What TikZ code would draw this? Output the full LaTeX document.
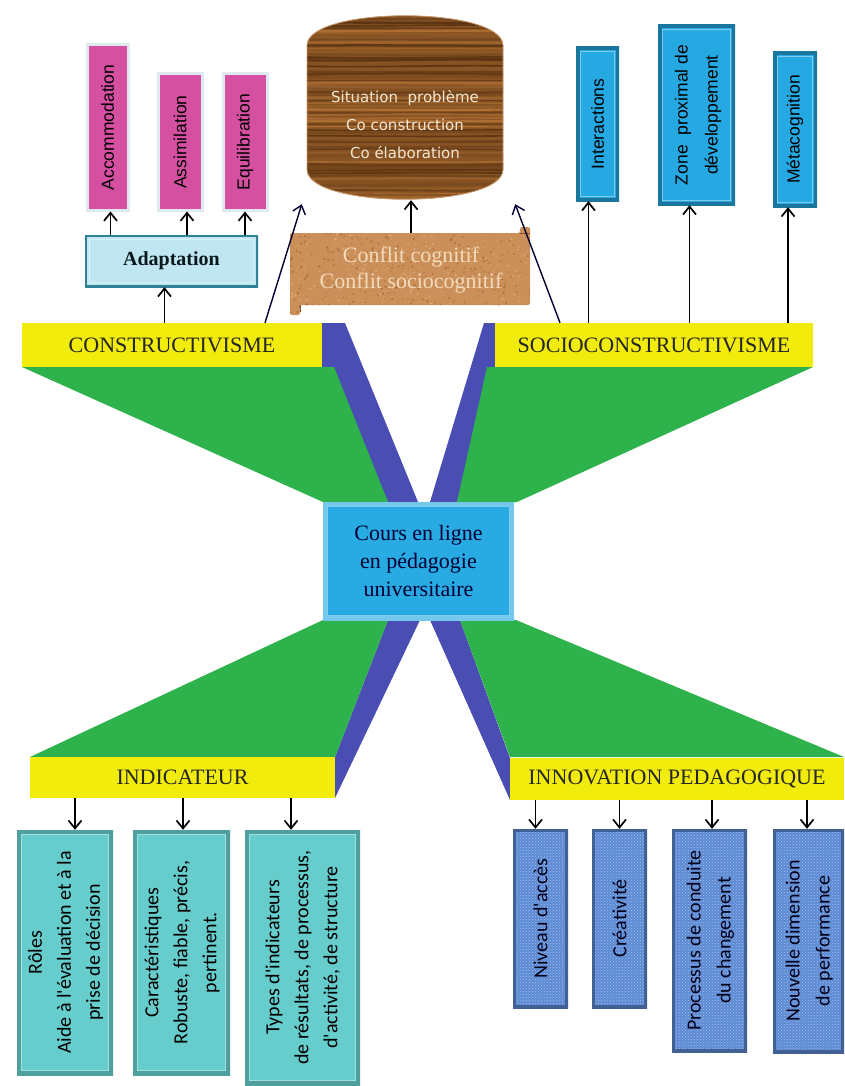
\documentclass[tikz,border=0pt]{standalone}
\usepackage{fontspec}
\setmainfont{Liberation Serif}
\newfontfamily\arialf{Liberation Sans}
\newfontfamily\calf{Carlito}
\newfontfamily\dejaf{DejaVu Sans}
\usetikzlibrary{arrows.meta,patterns}
\newcommand\rotlines[1]{\rotatebox{90}{\begin{tabular}{@{}c@{}}#1\end{tabular}}}
\definecolor{yel}{RGB}{242,236,12}
\definecolor{grn}{RGB}{46,178,76}
\definecolor{stripe}{RGB}{74,78,178}
\definecolor{cenb}{RGB}{40,170,226}
\definecolor{pinkc}{RGB}{214,80,162}
\definecolor{glow}{RGB}{222,234,240}
\definecolor{topb}{RGB}{38,168,226}
\definecolor{tealc}{RGB}{102,204,204}
\definecolor{botb}{RGB}{92,138,212}
\definecolor{adaptc}{RGB}{192,230,242}
\definecolor{adaptd}{RGB}{48,128,150}
\definecolor{woodD}{RGB}{92,52,18}
\definecolor{woodL}{RGB}{178,114,52}
\definecolor{corkD}{RGB}{170,102,50}
\definecolor{corkL}{RGB}{230,178,122}
\definecolor{woodtxt}{RGB}{245,232,210}
\definecolor{corktxt}{RGB}{242,218,188}
\begin{document}
\begin{tikzpicture}[x=1pt,y=-1pt,
  arr/.style={-{Straight Barb[length=8pt,width=13pt]}, line width=1.7pt, black},
  bar/.style={fill=yel, inner sep=0pt, font=\fontsize{22}{26}\selectfont, text=black!85},
  bevel/.style n args={3}{fill=#1, inner sep=0pt, path picture={
    \draw[#2, line width=#3] (path picture bounding box.south west) rectangle (path picture bounding box.north east);
    \draw[#1!60!white, line width=1pt] ([shift={(4.5pt,4.5pt)}]path picture bounding box.south west) rectangle ([shift={(-4.5pt,-4.5pt)}]path picture bounding box.north east);
  }},
  texbevel/.style={fill=botb, inner sep=0pt, path picture={
    \fill[pattern=crosshatch dots, pattern color=botb!55!white] (path picture bounding box.south west) rectangle (path picture bounding box.north east);
    \draw[botb!70!black, line width=6pt] (path picture bounding box.south west) rectangle (path picture bounding box.north east);
  }},
  pinkbox/.style={fill=pinkc, draw=glow, line width=3pt, inner sep=0pt, font=\arialf\fontsize{17.5}{22}\selectfont},
  topbox/.style={bevel={topb}{topb!70!black}{7pt}, font=\arialf\fontsize{17.5}{30}\selectfont},
  tealbox/.style={bevel={tealc}{tealc!78!black}{8pt}, font=\calf\fontsize{20}{29}\selectfont},
  botbox/.style={texbevel, font=\calf\fontsize{20}{30}\selectfont, text=black!90!blue}
]
\useasboundingbox (0,0) rectangle (844,1086);
\fill[white] (0,0) rectangle (844,1086);

% hourglass
\fill[stripe] (322,323) -- (345,323) -- (418,502) -- (388,502) -- (322,367) -- cycle;
\fill[grn] (22,367) -- (334,367) -- (388,502) -- (323,502) -- cycle;
\fill[stripe] (484,323) -- (497,323) -- (497,367) -- (457,502) -- (430,502) -- cycle;
\fill[grn] (487,367) -- (813,367) -- (517,502) -- (457,502) -- cycle;
\fill[stripe] (388,620) -- (420,620) -- (335,798) -- (335,757) -- cycle;
\fill[grn] (323,620) -- (388,620) -- (335,757) -- (30,757) -- cycle;
\fill[stripe] (430,620) -- (460,620) -- (510,758) -- (510,800) -- cycle;
\fill[grn] (460,620) -- (516,620) -- (844,757) -- (510,757) -- cycle;

% centre
\node[bevel={cenb}{cenb!65!white}{8pt}, minimum width=191pt, minimum height=118pt,
  font=\fontsize{22}{28}\selectfont, text=black!80!blue, align=center] (cen) at (418.5,561)
  {Cours en ligne\\en pédagogie\\universitaire};

% bars
\node[bar, minimum width=300pt, minimum height=44pt] (cons) at (172,345) {CONSTRUCTIVISME};
\node[bar, minimum width=318pt, minimum height=44pt] (soc) at (654,345) {SOCIOCONSTRUCTIVISME};
\node[bar, minimum width=305pt, minimum height=41pt] (ind) at (182.5,777.5) {INDICATEUR};
\node[bar, minimum width=334pt, minimum height=42pt] (inn) at (677,779) {INNOVATION PEDAGOGIQUE};

% wood cylinder
\begin{scope}
\clip (307,45) .. controls (309,6) and (501,6) .. (503,45) -- (503,170) .. controls (501,209) and (309,209) .. (307,170) -- cycle;
\fill[woodD!50!woodL] (300,0) rectangle (510,210);
\pgfmathsetseed{4242}
\foreach \i in {0,...,70}{
  \pgfmathsetmacro\yy{8+\i*2.9}
  \pgfmathsetmacro\ya{\yy+rnd*4-2}
  \pgfmathsetmacro\yb{\yy+rnd*4-2}
  \pgfmathsetmacro\mm{int(rnd*100)}
  \pgfmathsetmacro\ww{0.8+rnd*2.4}
  \draw[woodL!\mm!woodD, line width=\ww pt] (300,\yy) .. controls (360,\ya) and (450,\yb) .. (510,\yy);
}
\end{scope}
\draw[woodL!70!white, line width=0.8pt] (307,45) .. controls (309,6) and (501,6) .. (503,45) -- (503,170) .. controls (501,209) and (309,209) .. (307,170) -- cycle;
\node[minimum width=196pt, minimum height=150pt, inner sep=0pt, align=center,
  font=\dejaf\fontsize{15}{28}\selectfont, text=woodtxt] (wood) at (405,125)
  {Situation~ problème\\Co construction\\Co élaboration};

% cork scroll
\begin{scope}
\clip[rounded corners=2pt] (290,233) -- (520,233) -- (520,227) -- (530,227) -- (530,305) -- (300,305) -- (300,315) -- (290,315) -- cycle;
\fill[corkD!45!corkL] (285,220) rectangle (535,320);
\pgfmathsetseed{777}
\foreach \i in {1,...,700}{
  \pgfmathsetmacro\xx{288+rnd*245}
  \pgfmathsetmacro\yy{225+rnd*92}
  \pgfmathsetmacro\mm{int(rnd*100)}
  \fill[corkL!\mm!corkD] (\xx,\yy) circle (1.1pt);
}
\end{scope}
\draw[corkD!80!black, line width=0.5pt] (520,233) -- (530,233);
\draw[corkD!80!black, line width=0.5pt] (300,305) -- (300,312);
\node[minimum width=240pt, minimum height=74pt, inner sep=0pt, align=center,
  font=\fontsize{22}{26}\selectfont, text=corktxt] (conf) at (411,270)
  {Conflit cognitif\\Conflit sociocognitif};

% adaptation
\node[bevel={adaptc}{adaptd}{4.5pt}, minimum width=173pt, minimum height=52pt,
  font=\bfseries\fontsize{20}{24}\selectfont, text=black!80!adaptd] (adapt) at (171.5,261) {Adaptation};

% pink boxes
\node[pinkbox, minimum width=41pt, minimum height=165pt] (acc) at (107.5,127.5) {\rotatebox{90}{Accommodation}};
\node[pinkbox, minimum width=44pt, minimum height=136pt] (ass) at (180,142) {\rotatebox{90}{Assimilation}};
\node[pinkbox, minimum width=44pt, minimum height=136pt] (equ) at (245,142) {\rotatebox{90}{Equilibration}};

% top blue boxes
\node[topbox, minimum width=43pt, minimum height=154pt] (inter) at (597.5,124) {\rotatebox{90}{Interactions}};
\node[topbox, minimum width=77pt, minimum height=180pt] (zone) at (696.5,115) {\rotlines{Zone~ proximal de\\développement}};
\node[topbox, minimum width=44pt, minimum height=155pt] (meta) at (795,129.5) {\rotatebox{90}{Métacognition}};

% teal boxes
\node[tealbox, minimum width=96pt, minimum height=245pt] (rol) at (65,952.5) {\rotlines{Rôles\\Aide à l'évaluation et à la\\prise de décision}};
\node[tealbox, minimum width=97pt, minimum height=245pt] (car) at (181.5,952.5) {\rotlines{Caractéristiques\\Robuste, fiable, précis,\\pertinent.}};
\node[tealbox, minimum width=115pt, minimum height=255pt] (typ) at (302.5,957.5) {\rotlines{Types d'indicateurs\\de résultats, de processus,\\d'activité, de structure}};

% bottom right boxes
\node[botbox, minimum width=55pt, minimum height=179pt] (niv) at (540.5,918.5) {\rotatebox{90}{Niveau d'accès}};
\node[botbox, minimum width=55pt, minimum height=179pt] (cre) at (619.5,918.5) {\rotatebox{90}{Créativité}};
\node[botbox, minimum width=75pt, minimum height=223pt] (pro) at (709.5,940.5) {\rotlines{Processus de conduite\\du changement}};
\node[botbox, minimum width=71pt, minimum height=224pt] (nou) at (808.5,941) {\rotlines{Nouvelle dimension\\de performance}};

% arrows top-left
\draw[arr] ([xshift=-7pt]adapt.south |- cons.north) -- ([xshift=-7pt]adapt.south);
\draw[arr] ([xshift=3pt]acc.south |- adapt.north) -- ([xshift=3pt]acc.south);
\draw[arr] ([xshift=7pt]ass.south |- adapt.north) -- ([xshift=7pt]ass.south);
\draw[arr] (equ.south |- adapt.north) -- (equ.south);
% arrows to wood
\draw[arr] (conf.north) -- (conf.north |- wood.south);
\draw[arr, line width=1.4pt, draw=black!80!blue] ([xshift=93pt]cons.north) -- ([xshift=-5pt,yshift=-4pt]wood.south west);
\draw[arr, line width=1.4pt, draw=black!80!blue] ([xshift=-94pt]soc.north) -- ([xshift=12pt,yshift=-4pt]wood.south east);
% arrows top-right
\draw[arr] ([xshift=-9pt]inter.south |- soc.north) -- ([xshift=-9pt]inter.south);
\draw[arr] ([xshift=-7pt]zone.south |- soc.north) -- ([xshift=-7pt]zone.south);
\draw[arr] ([xshift=-7pt]meta.south |- soc.north) -- ([xshift=-7pt]meta.south);
% arrows bottom-left
\draw[arr] ([xshift=10pt]rol.north |- ind.south) -- ([xshift=10pt]rol.north);
\draw[arr] ([xshift=1.5pt]car.north |- ind.south) -- ([xshift=1.5pt]car.north);
\draw[arr] ([xshift=-11.5pt]typ.north |- ind.south) -- ([xshift=-11.5pt]typ.north);
% arrows bottom-right
\draw[arr] ([xshift=-5pt]niv.north |- inn.south) -- ([xshift=-5pt]niv.north);
\draw[arr] (cre.north |- inn.south) -- (cre.north);
\draw[arr] ([xshift=2.5pt]pro.north |- inn.south) -- ([xshift=2.5pt]pro.north);
\draw[arr] ([xshift=-1.5pt]nou.north |- inn.south) -- ([xshift=-1.5pt]nou.north);
\end{tikzpicture}
\end{document}
